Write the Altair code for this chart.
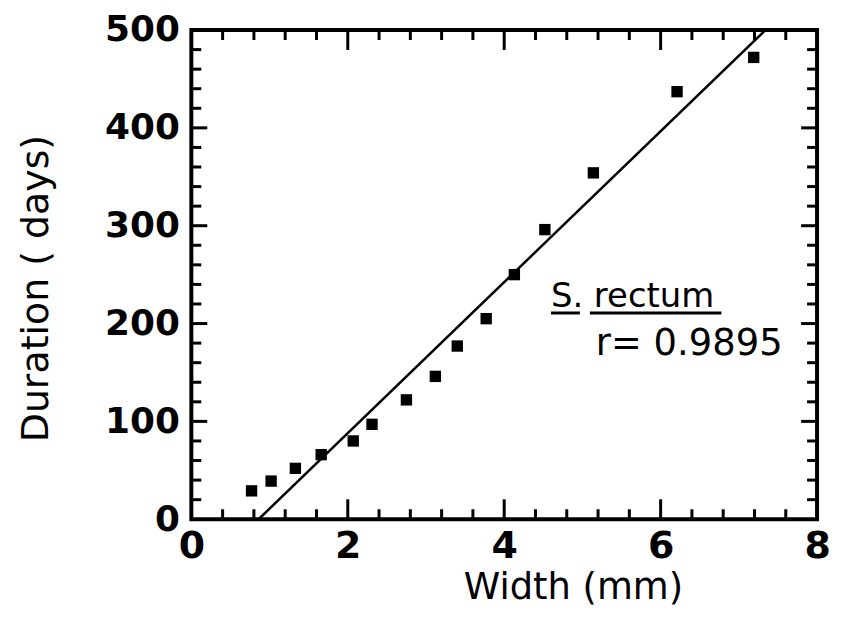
import altair as alt
import pandas as pd

# Data
width_mm = [0.77, 1.02, 1.33, 1.66, 2.07, 2.31, 2.75, 3.12, 3.40, 3.77, 4.13, 4.52, 5.14, 6.21, 7.19]
duration_days = [29, 39, 52, 66, 80, 97, 122, 146, 177, 205, 250, 296, 354, 437, 472]

# Fitted line end points
fit_x = [0.86, 7.34]
fit_y = [0, 500]

# Axis tick positions
x_labels = [0, 2, 4, 6, 8]
x_major = [2, 4, 6]
x_minor = [0.4, 0.8, 1.2, 1.6, 2.4, 2.8, 3.2, 3.6, 4.4, 4.8, 5.2, 5.6, 6.4, 6.8, 7.2, 7.6]
y_labels = [0, 100, 200, 300, 400, 500]
y_major = [100, 200, 300, 400]
y_minor = [20, 40, 60, 80, 120, 140, 160, 180, 220, 240, 260, 280,
           320, 340, 360, 380, 420, 440, 460, 480]

W, H = 628, 491
FONT = "DejaVu Sans"

pts = pd.DataFrame({"w": width_mm, "d": duration_days})
fit = pd.DataFrame({"w": fit_x, "d": fit_y})

xs = alt.Scale(domain=[0, 8], nice=False, zero=False)
ys = alt.Scale(domain=[0, 500], nice=False, zero=False)

xaxis = alt.Axis(values=x_labels, format="d", ticks=False, domain=False, grid=False,
                 labelFont=FONT, labelFontSize=38, labelFontWeight="bold", labelColor="black",
                 labelPadding=8, labelFlush=False,
                 title="Width (mm)", titleFont=FONT, titleFontSize=37, titleFontWeight="normal",
                 titleColor="black", titleX=383, titleY=80, titleAlign="center",
                 titleBaseline="alphabetic")
yaxis = alt.Axis(values=y_labels, format="d", ticks=False, domain=False, grid=False,
                 labelFont=FONT, labelFontSize=36, labelFontWeight="bold", labelColor="black",
                 labelPadding=12, labelFlush=False,
                 title="Duration ( days)", titleFont=FONT, titleFontSize=38, titleFontWeight="normal",
                 titleColor="black", titleX=-144, titleY=259, titleAngle=270, titleAlign="center",
                 titleBaseline="alphabetic")

points = alt.Chart(pts).mark_point(shape="square", filled=True, color="black", size=130, opacity=1).encode(
    x=alt.X("w:Q", scale=xs, axis=xaxis),
    y=alt.Y("d:Q", scale=ys, axis=yaxis),
)

line = alt.Chart(fit).mark_line(color="black", strokeWidth=2.5).encode(
    x=alt.X("w:Q", scale=xs), y=alt.Y("d:Q", scale=ys)
)

def xticks(vals, length, side):
    df = pd.DataFrame({"t": vals})
    if side == "bottom":
        enc = dict(y=alt.value(H), y2=alt.value(H - length))
    else:
        enc = dict(y=alt.value(0), y2=alt.value(length))
    return alt.Chart(df).mark_rule(color="black", strokeWidth=3).encode(
        x=alt.X("t:Q", scale=xs), **enc)

def yticks(vals, length, side):
    df = pd.DataFrame({"t": vals})
    if side == "left":
        enc = dict(x=alt.value(0), x2=alt.value(length))
    else:
        enc = dict(x=alt.value(W), x2=alt.value(W - length))
    return alt.Chart(df).mark_rule(color="black", strokeWidth=3).encode(
        y=alt.Y("t:Q", scale=ys), **enc)

ticks = [
    xticks(x_minor, 10, "bottom"), xticks(x_major, 20, "bottom"),
    xticks(x_minor, 10, "top"), xticks(x_major, 20, "top"),
    yticks(y_minor, 10, "left"), yticks(y_major, 16, "left"),
    yticks(y_minor, 10, "right"), yticks(y_major, 16, "right"),
]

ann = pd.DataFrame({"a": [0]})
s_text = alt.Chart(ann).mark_text(text="S.", font=FONT, fontSize=34, align="left",
                                  baseline="alphabetic", color="black").encode(
    x=alt.value(361), y=alt.value(278))
rect_text = alt.Chart(ann).mark_text(text="rectum", font=FONT, fontSize=34, align="left",
                                     baseline="alphabetic", color="black").encode(
    x=alt.value(404), y=alt.value(278))
r_text = alt.Chart(ann).mark_text(text="r= 0.9895", font=FONT, fontSize=37, align="left",
                                  baseline="alphabetic", color="black").encode(
    x=alt.value(406), y=alt.value(326))
ul1 = alt.Chart(ann).mark_rule(color="black", strokeWidth=3).encode(
    x=alt.value(361), x2=alt.value(390), y=alt.value(284))
ul2 = alt.Chart(ann).mark_rule(color="black", strokeWidth=3).encode(
    x=alt.value(400), x2=alt.value(532), y=alt.value(284))

chart = alt.layer(line, points, *ticks, s_text, rect_text, r_text, ul1, ul2).properties(
    width=W, height=H,
    autosize=alt.AutoSizeParams(type="none"),
    padding={"left": 184, "top": 21, "right": 16, "bottom": 90},
    background="white",
).configure_view(stroke="black", strokeWidth=4)

chart.save("out.html", embed_options={"renderer": "svg", "actions": False})
